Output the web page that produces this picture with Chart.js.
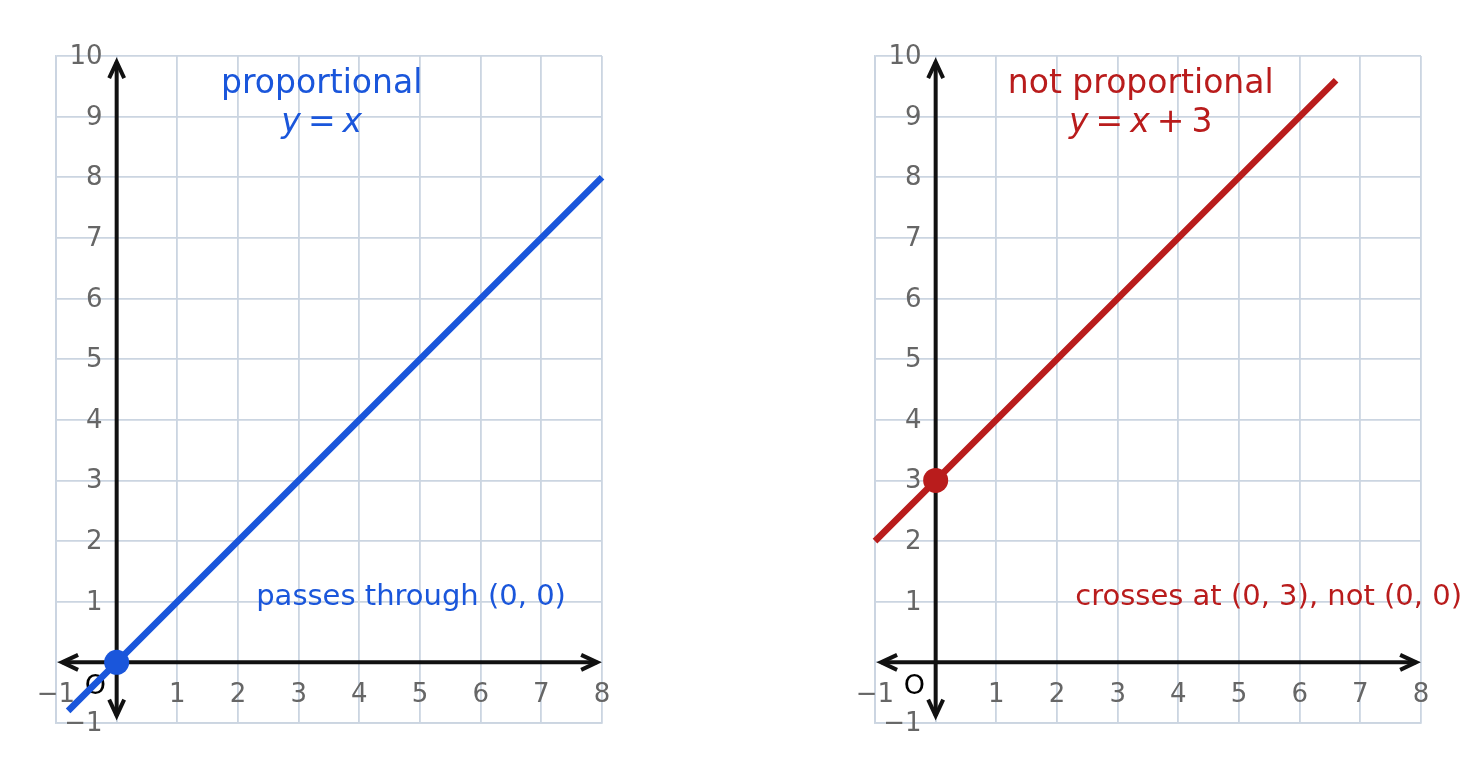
<!DOCTYPE html>
<html>
<head>
<meta charset="utf-8">
<script src="https://cdn.jsdelivr.net/npm/chart.js@4/dist/chart.umd.min.js"></script>
<style>
html,body{margin:0;padding:0;background:#fff;width:1483px;height:779px;overflow:hidden;}
.wrap{position:absolute;top:0;height:779px;}
</style>
</head>
<body>
<div class="wrap" style="left:0;width:741px;"><canvas id="c1" width="741" height="779"></canvas></div>
<div class="wrap" style="left:741px;width:742px;"><canvas id="c2" width="742" height="779"></canvas></div>
<script>
// ---- data ----
const xTicks = [-1, 0, 1, 2, 3, 4, 5, 6, 7, 8];
const yTicks = [-1, 0, 1, 2, 3, 4, 5, 6, 7, 8, 9, 10];
const leftLineX = [-0.8, 8];
const leftLineY = [-0.8, 8];
const leftPoint = [0, 0];
const rightLineX = [-1, 6.6];
const rightLineY = [2, 9.6];
const rightPoint = [0, 3];
const leftTitle = ['proportional'];
const rightTitle = ['not proportional'];
const leftNote = 'passes through (0, 0)';
const rightNote = 'crosses at (0, 3), not (0, 0)';

const BLUE = '#1a56db';
const RED = '#b91c1c';
const GRID = '#cbd5e1';
const TICK = '#666666';
const AXIS = '#111111';
const FONT = '"DejaVu Sans", sans-serif';

function fmt(v){ return v < 0 ? '\u2212' + Math.abs(v) : String(v); }

function arrow(ctx, x, y, dx, dy){
  const L = 16, W = 7.5;
  const px = -dy, py = dx;
  ctx.beginPath();
  ctx.moveTo(x - dx*L + px*W, y - dy*L + py*W);
  ctx.lineTo(x, y);
  ctx.lineTo(x - dx*L - px*W, y - dy*L - py*W);
  ctx.stroke();
}

function drawMath(ctx, parts, cx, y, size){
  let total = 0;
  const ws = parts.map(p => {
    ctx.font = (p.i ? 'italic ' : '') + size + 'px ' + FONT;
    const w = ctx.measureText(p.t).width;
    total += w + (p.sp || 0)*2;
    return w;
  });
  let x = cx - total/2;
  ctx.textAlign = 'left';
  parts.forEach((p, k) => {
    x += (p.sp || 0);
    ctx.font = (p.i ? 'italic ' : '') + size + 'px ' + FONT;
    ctx.fillText(p.t, x, y);
    x += ws[k] + (p.sp || 0);
  });
}

function makePlugin(cfg){
  return {
    id: 'deco',
    beforeDatasetsDraw(chart){
      const ctx = chart.ctx, xs = chart.scales.x, ys = chart.scales.y;
      const x0 = xs.getPixelForValue(0), y0 = ys.getPixelForValue(0);
      ctx.save();
      // tick labels
      ctx.fillStyle = TICK;
      ctx.font = '26px ' + FONT;
      ctx.textAlign = 'center';
      ctx.textBaseline = 'alphabetic';
      xTicks.forEach(v => { if (v !== 0) ctx.fillText(fmt(v), xs.getPixelForValue(v), y0 + 40); });
      ctx.textAlign = 'right';
      yTicks.forEach(v => { if (v !== 0) ctx.fillText(fmt(v), x0 - 14, ys.getPixelForValue(v) + 8); });
      ctx.fillStyle = '#000';
      ctx.textAlign = 'center';
      ctx.font = '27px ' + FONT;
      ctx.fillText('O', xs.getPixelForValue(-0.35), ys.getPixelForValue(-0.4) + 7);
      // axes
      ctx.strokeStyle = AXIS;
      ctx.lineWidth = 4;
      ctx.lineCap = 'butt';
      ctx.lineJoin = 'miter';
      const xa = xs.getPixelForValue(-0.9), xb = xs.getPixelForValue(7.92);
      const ya = ys.getPixelForValue(-0.88), yb = ys.getPixelForValue(9.9);
      ctx.beginPath(); ctx.moveTo(xa, y0); ctx.lineTo(xb, y0); ctx.stroke();
      ctx.beginPath(); ctx.moveTo(x0, ya); ctx.lineTo(x0, yb); ctx.stroke();
      arrow(ctx, xa, y0, -1, 0);
      arrow(ctx, xb, y0, 1, 0);
      arrow(ctx, x0, ya, 0, 1);
      arrow(ctx, x0, yb, 0, -1);
      ctx.restore();
    },
    afterDatasetsDraw(chart){
      const ctx = chart.ctx, xs = chart.scales.x, ys = chart.scales.y;
      ctx.save();
      ctx.fillStyle = cfg.color;
      ctx.textBaseline = 'alphabetic';
      const tx = xs.getPixelForValue(3.38);
      ctx.font = '33px ' + FONT;
      ctx.textAlign = 'center';
      ctx.fillText(cfg.title, tx, ys.getPixelForValue(10) + 37);
      drawMath(ctx, cfg.math, tx, ys.getPixelForValue(10) + 76, 33);
      ctx.font = '29px ' + FONT;
      ctx.textAlign = 'left';
      ctx.fillText(cfg.note, xs.getPixelForValue(2.3), ys.getPixelForValue(1.1) + 9);
      ctx.restore();
    }
  };
}

function build(id, lineX, lineY, pt, color, padL, padR, cfg){
  const linePts = lineX.map((x, i) => ({x: x, y: lineY[i]}));
  new Chart(document.getElementById(id), {
    type: 'scatter',
    data: {
      datasets: [
        { data: linePts, showLine: true, borderColor: color, borderWidth: 6.5, pointRadius: 0,
          borderCapStyle: 'butt', fill: false, order: 2 },
        { data: [{x: pt[0], y: pt[1]}], pointRadius: 12.5, pointHoverRadius: 12.5,
          backgroundColor: color, borderColor: color, borderWidth: 0, order: 1 }
      ]
    },
    options: {
      responsive: false,
      animation: false,
      events: [],
      clip: false,
      layout: { padding: { left: padL, right: padR, top: 56, bottom: 56 } },
      plugins: { legend: { display: false }, tooltip: { enabled: false } },
      scales: {
        x: { type: 'linear', min: -1, max: 8,
             ticks: { display: false, stepSize: 1 },
             grid: { color: GRID, lineWidth: 1.8, drawTicks: false },
             border: { display: true, color: GRID, width: 1.8 } },
        y: { type: 'linear', min: -1, max: 10,
             ticks: { display: false, stepSize: 1 },
             grid: { color: GRID, lineWidth: 1.8, drawTicks: false },
             border: { display: true, color: GRID, width: 1.8 } }
      }
    },
    plugins: [makePlugin(cfg)]
  });
}

build('c1', leftLineX, leftLineY, leftPoint, BLUE, 56, 741 - 602, {
  color: BLUE, title: leftTitle[0], note: leftNote,
  math: [{t: 'y', i: true}, {t: '=', sp: 7}, {t: 'x', i: true}]
});
build('c2', rightLineX, rightLineY, rightPoint, RED, 875 - 741, 742 - (1421 - 741), {
  color: RED, title: rightTitle[0], note: rightNote,
  math: [{t: 'y', i: true}, {t: '=', sp: 7}, {t: 'x', i: true}, {t: '+', sp: 7}, {t: '3'}]
});
</script>
</body>
</html>
